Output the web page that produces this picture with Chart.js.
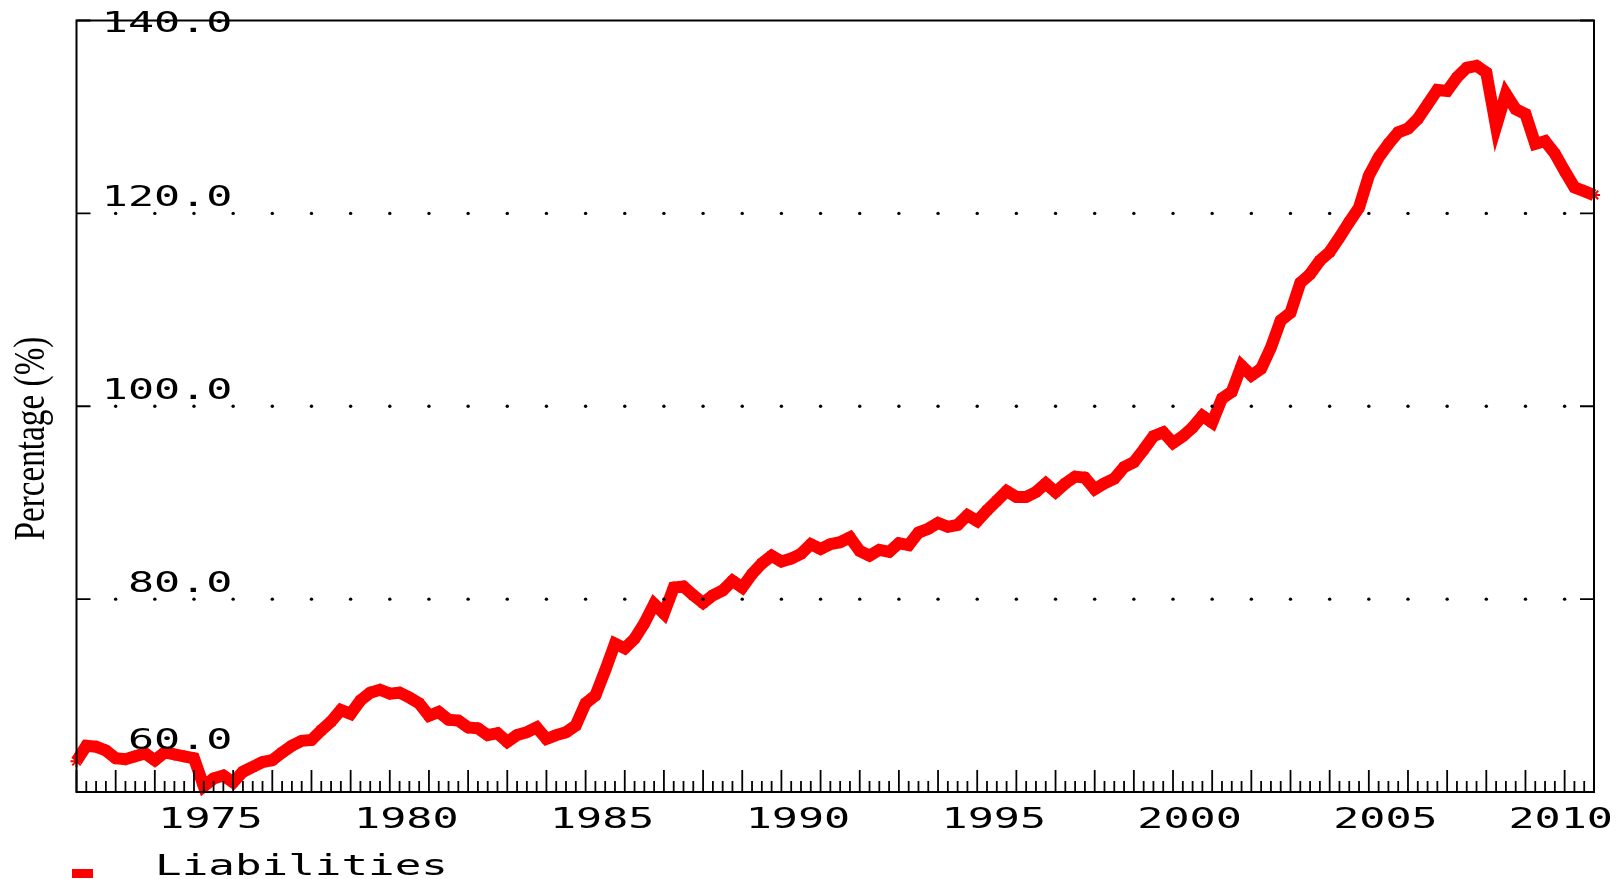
<!DOCTYPE html>
<html>
<head>
<meta charset="utf-8">
<title>Liabilities</title>
<script src="https://cdn.jsdelivr.net/npm/chart.js@4.4.1/dist/chart.umd.min.js"></script>
<style>
  html, body { margin: 0; padding: 0; background: #fff; }
  #wrap { width: 1624px; height: 879px; position: relative; }
</style>
</head>
<body>
<div id="wrap"><canvas id="liabChart"></canvas></div>
<script>
// quarterly categories, 1972Q1 .. 2010Q4
const firstYear = 1972;
const lastYear = 2010;
const quarters = [];
for (let yr = firstYear; yr <= lastYear; yr++) {
  for (let q = 1; q <= 4; q++) quarters.push(yr + "Q" + q);
}

// liabilities, percentage, one value per quarter
const liabilities = [
  63.2, 64.8, 64.7, 64.3,   // 1972
  63.5, 63.4, 63.7, 64.0,   // 1973
  63.3, 64.1, 63.9, 63.7,   // 1974
  63.5, 60.6, 61.4, 61.7,   // 1975
  61.0, 62.1, 62.6, 63.1,   // 1976
  63.3, 64.1, 64.8, 65.3,   // 1977
  65.4, 66.4, 67.3, 68.5,   // 1978
  68.1, 69.5, 70.3, 70.6,   // 1979
  70.2, 70.3, 69.8, 69.2,   // 1980
  67.9, 68.3, 67.5, 67.4,   // 1981
  66.7, 66.6, 65.9, 66.1,   // 1982
  65.2, 65.9, 66.2, 66.7,   // 1983
  65.5, 65.9, 66.2, 66.9,   // 1984
  69.2, 70.0, 72.6, 75.4,   // 1985
  74.9, 75.9, 77.5, 79.5,   // 1986
  78.5, 81.2, 81.3, 80.4,   // 1987
  79.6, 80.4, 80.9, 81.9,   // 1988
  81.2, 82.6, 83.7, 84.5,   // 1989
  83.9, 84.2, 84.7, 85.7,   // 1990
  85.2, 85.7, 85.9, 86.4,   // 1991
  85.0, 84.5, 85.1, 84.9,   // 1992
  85.8, 85.6, 86.9, 87.3,   // 1993
  87.9, 87.5, 87.7, 88.7,   // 1994
  88.1, 89.2, 90.2, 91.2,   // 1995
  90.6, 90.6, 91.1, 92.0,   // 1996
  91.1, 92.0, 92.7, 92.6,   // 1997
  91.4, 92.0, 92.5, 93.7,   // 1998
  94.2, 95.5, 96.9, 97.3,   // 1999
  96.2, 96.9, 97.8, 99.0,   // 2000
  98.3, 100.8, 101.5, 104.2, // 2001
  103.2, 103.9, 106.1, 108.9, // 2002
  109.7, 112.8, 113.7, 115.1, // 2003
  116.0, 117.5, 119.1, 120.6, // 2004
  123.9, 125.8, 127.2, 128.4, // 2005
  128.8, 129.8, 131.3, 132.8, // 2006
  132.7, 134.1, 135.1, 135.3, // 2007
  134.6, 129.0, 132.4, 130.8, // 2008
  130.3, 127.2, 127.5, 126.2, // 2009
  124.4, 122.7, 122.3, 121.9  // 2010
];

const yearLabels = [1975, 1980, 1985, 1990, 1995, 2000, 2005, 2010];
const yTicks = [60, 80, 100, 120, 140];
const gridValues = [80, 100, 120];

const monoFont = '28px "DejaVu Sans Mono"';

function wideText(ctx, text, x, base, align, stretch) {
  ctx.save();
  ctx.font = monoFont;
  const w = ctx.measureText(text).width * stretch;
  let left = x;
  if (align === "right") left = x - w;
  if (align === "center") left = x - w / 2;
  ctx.translate(left, base);
  ctx.scale(stretch, 1);
  ctx.textAlign = "left";
  ctx.textBaseline = "alphabetic";
  ctx.fillStyle = "#000";
  ctx.fillText(text, 0, 0);
  ctx.restore();
  return w;
}

const decor = {
  id: "decor",
  afterDraw(chart) {
    const ctx = chart.ctx;
    const a = chart.chartArea;
    const xs = chart.scales.x;
    const ys = chart.scales.y;
    ctx.save();

    // dotted gridlines, one dot per year
    ctx.fillStyle = "#000";
    gridValues.forEach(v => {
      const py = ys.getPixelForValue(v);
      for (let i = 4; i < quarters.length; i += 4) {
        const px = xs.getPixelForValue(i);
        ctx.beginPath();
        ctx.arc(px, py, 1.7, 0, Math.PI * 2);
        ctx.fill();
      }
    });

    // frame
    ctx.strokeStyle = "#000";
    ctx.lineWidth = 2;
    ctx.strokeRect(a.left, a.top, a.right - a.left, a.bottom - a.top);

    // x ticks: long on years, short on quarters
    ctx.lineWidth = 1.8;
    for (let i = 0; i < quarters.length; i++) {
      const px = xs.getPixelForValue(i);
      const len = i % 4 === 0 ? 22 : 11;
      ctx.beginPath();
      ctx.moveTo(px, a.bottom);
      ctx.lineTo(px, a.bottom - len);
      ctx.stroke();
    }

    // y ticks inward on both sides
    yTicks.forEach(v => {
      const py = ys.getPixelForValue(v);
      ctx.beginPath();
      ctx.moveTo(a.left, py); ctx.lineTo(a.left + 14, py);
      ctx.moveTo(a.right, py); ctx.lineTo(a.right - 14, py);
      ctx.stroke();
    });

    // y labels, inside the plot
    yTicks.forEach(v => {
      const py = ys.getPixelForValue(v);
      const base = Math.min(Math.max(py - 7, a.top + 11), a.bottom - 43);
      wideText(ctx, v.toFixed(1), 232.5, base, "right", 1.55);
    });

    // x labels, centred on the year
    ctx.font = monoFont;
    yearLabels.forEach(yr => {
      const idx = (yr - firstYear) * 4 + 2;
      const half = ctx.measureText(String(yr)).width * 1.55 / 2;
      let cx = xs.getPixelForValue(idx) - 3;
      cx = Math.min(cx, chart.width - 11 - half);
      wideText(ctx, String(yr), cx, 828, "center", 1.55);
    });

    // legend
    ctx.fillStyle = "#ff0000";
    ctx.fillRect(72, 869, 21, 9);
    wideText(ctx, "Liabilities", 155, 875, "left", 1.58);

    // y title
    ctx.save();
    ctx.font = '44px "Liberation Serif"';
    const tw = ctx.measureText("Percentage (%)").width;
    ctx.translate(44, 438.6);
    ctx.rotate(-Math.PI / 2);
    ctx.scale(204 / tw, 1);
    ctx.textAlign = "center";
    ctx.textBaseline = "alphabetic";
    ctx.fillStyle = "#000";
    ctx.fillText("Percentage (%)", 0, 0);
    ctx.restore();

    ctx.restore();
  }
};

const ctx = document.getElementById("liabChart").getContext("2d");
const liabChart = new Chart(ctx, {
  type: "line",
  data: {
    labels: quarters,
    datasets: [{
      label: "Liabilities",
      data: liabilities,
      borderColor: "#ff0000",
      backgroundColor: "#ff0000",
      borderWidth: 12,
      tension: 0,
      pointStyle: "star",
      pointRadius: 6,
      pointBorderWidth: 2,
      pointBorderColor: "#ff0000",
      pointHoverRadius: 6,
      clip: 8
    }]
  },
  options: {
    responsive: true,
    maintainAspectRatio: false,
    animation: false,
    layout: { padding: { left: 76.5, top: 20.5, right: 30, bottom: 87 } },
    scales: {
      x: { type: "category", display: false, offset: false },
      y: { type: "linear", display: false, min: 60, max: 140 }
    },
    plugins: {
      legend: { display: false },
      tooltip: { enabled: false }
    }
  },
  plugins: [decor]
});
</script>
</body>
</html>
